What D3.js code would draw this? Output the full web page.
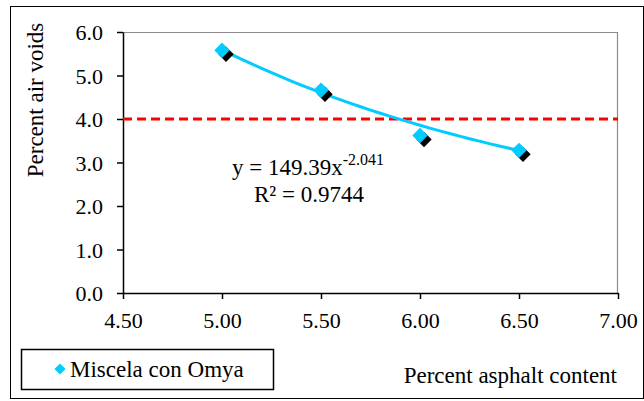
<!DOCTYPE html>
<html>
<head>
<meta charset="utf-8">
<script src="https://cdn.jsdelivr.net/npm/d3@7"></script>
</head>
<body style="margin:0; background:#fff">
<div id="chart"></div>
<script>
const [width, height] = [644, 401];
const serif = "'Liberation Serif'";

// data
const asphalt = [5.0, 5.5, 6.0, 6.5];
const airVoids = [5.58, 4.66, 3.62, 3.28];
const xTicks = [4.5, 5.0, 5.5, 6.0, 6.5, 7.0];
const yTicks = [0, 1, 2, 3, 4, 5, 6];
const targetVoids = 4.0;
const fitCoef = 149.39;
const fitExp = -2.041;
const rSquared = 0.9744;
const seriesName = "Miscela con Omya";

const margin = { top: 32, right: 26, bottom: 108, left: 123 };

const svg = d3.select("#chart")
  .append("svg")
  .attr("width", width)
  .attr("height", height);

// outer frame
svg.append("rect")
  .attr("x", 10.5).attr("y", 6.5)
  .attr("width", 633).attr("height", 392)
  .attr("fill", "none").attr("stroke", "#000");

const g = svg.append("g")
  .attr("transform", `translate(${margin.left}, ${margin.top})`);

const w = width - margin.left - margin.right;
const h = height - margin.top - margin.bottom;

const x = d3.scaleLinear().domain([4.5, 7.0]).range([0, w]);
const y = d3.scaleLinear().domain([0, 6]).range([h, 0]);

// plot frame top/right in grey
g.append("line").attr("x1", 0).attr("x2", w).attr("y1", 0.5).attr("y2", 0.5)
  .attr("stroke", "#8c8c8c").attr("stroke-width", 1.2);
g.append("line").attr("x1", w - 0.5).attr("x2", w - 0.5).attr("y1", 0).attr("y2", h)
  .attr("stroke", "#8c8c8c").attr("stroke-width", 1.2);

const xAxis = g.append("g")
  .attr("transform", `translate(0, ${h})`)
  .call(d3.axisBottom(x).tickValues(xTicks).tickFormat(d3.format(".2f")).tickSize(6).tickSizeOuter(0));
const yAxis = g.append("g")
  .call(d3.axisLeft(y).tickValues(yTicks).tickFormat(d3.format(".1f")).tickSize(6).tickSizeOuter(0));

[xAxis, yAxis].forEach(a => {
  a.attr("font-family", "Liberation Serif").attr("font-size", 22);
  a.selectAll("path, line").attr("stroke", "#000").attr("stroke-width", 1.5);
  a.selectAll("text")
    .style("font-family", serif)
    .style("font-size", "22px")
    .attr("fill", "#000");
});
xAxis.selectAll("text").attr("y", 35).attr("dy", null);
yAxis.selectAll("text").attr("dy", "0.35em").attr("x", -20);

// target line
g.append("line")
  .attr("x1", 0).attr("x2", w)
  .attr("y1", y(targetVoids)).attr("y2", y(targetVoids))
  .attr("stroke", "#ff0000").attr("stroke-width", 3)
  .attr("stroke-dasharray", "9,5");

// power trendline
const fitXs = d3.range(asphalt[0], asphalt[asphalt.length - 1] + 0.001, 0.05);
const line = d3.line().x(d => x(d)).y(d => y(fitCoef * Math.pow(d, fitExp)));
g.append("path")
  .datum(fitXs)
  .attr("d", line)
  .attr("fill", "none")
  .attr("stroke", "#00ccff")
  .attr("stroke-width", 3);

// markers with shadow
const pts = asphalt.map((a, i) => ({ x: a, y: airVoids[i] }));
const diamond = d3.symbol().type(d3.symbolDiamond2).size(150);
g.selectAll(".shadow")
  .data(pts).enter().append("path")
  .attr("class", "shadow")
  .attr("d", diamond)
  .attr("transform", d => `translate(${x(d.x) + 4}, ${y(d.y) + 4})`)
  .attr("fill", "#000");
g.selectAll(".pt")
  .data(pts).enter().append("path")
  .attr("class", "pt")
  .attr("d", diamond)
  .attr("transform", d => `translate(${x(d.x)}, ${y(d.y)})`)
  .attr("fill", "#00ccff");

// equation
const eq = svg.append("text")
  .attr("x", 232).attr("y", 175)
  .style("font-family", serif).style("font-size", "23px");
eq.append("tspan").text(`y = ${fitCoef}x`);
eq.append("tspan").attr("dy", -10).style("font-size", "16px").text(fitExp);
svg.append("text")
  .attr("x", 254).attr("y", 202)
  .style("font-family", serif).style("font-size", "23px")
  .text(`R² = ${rSquared}`);

// axis titles
svg.append("text")
  .attr("transform", "translate(43, 100) rotate(-90)")
  .attr("text-anchor", "middle")
  .style("font-family", serif).style("font-size", "23px")
  .text("Percent air voids");
svg.append("text")
  .attr("x", 617).attr("y", 383)
  .attr("text-anchor", "end")
  .style("font-family", serif).style("font-size", "23px")
  .text("Percent asphalt content");

// legend
svg.append("rect")
  .attr("x", 21.5).attr("y", 349.5).attr("width", 252).attr("height", 40)
  .attr("fill", "#fff").attr("stroke", "#000").attr("stroke-width", 1.5);
svg.append("path")
  .attr("d", d3.symbol().type(d3.symbolDiamond2).size(80))
  .attr("transform", "translate(60, 369)")
  .attr("fill", "#00ccff");
svg.append("text")
  .attr("x", 70).attr("y", 377)
  .style("font-family", serif).style("font-size", "23px")
  .text(seriesName);
</script>
</body>
</html>
